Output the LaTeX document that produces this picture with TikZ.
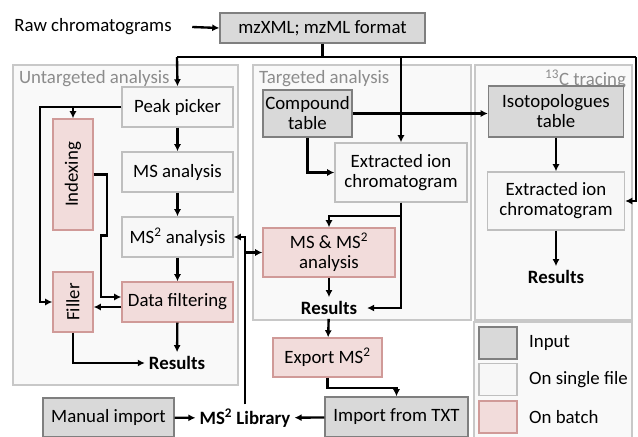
\documentclass[tikz,border=0pt]{standalone}
\usepackage{fontspec}
\setmainfont{Carlito}
\usetikzlibrary{arrows.meta,calc}
\newcommand{\unitpx}{0.85pt}
\definecolor{inputfill}{HTML}{D9D9D9}
\definecolor{inputdraw}{HTML}{7F7F7F}
\definecolor{singlefill}{HTML}{F7F7F7}
\definecolor{singledraw}{HTML}{BFBFBF}
\definecolor{batchfill}{HTML}{F2DCDB}
\definecolor{batchdraw}{HTML}{D09A98}
\definecolor{panelfill}{HTML}{F9F9F9}
\definecolor{paneldraw}{HTML}{C8C8C8}
\definecolor{labelgray}{HTML}{8C8C8C}
\begin{document}
\begin{tikzpicture}[x=\unitpx, y=-\unitpx, every node/.style={font=\fontsize{16}{17}\selectfont}, >={Latex[length=6pt, width=6pt]},
	box/.style={line width=1.2pt, align=center, inner sep=0pt},
	input/.style={box, fill=inputfill, draw=inputdraw},
	single/.style={box, fill=singlefill, draw=singledraw},
	batch/.style={box, fill=batchfill, draw=batchdraw},
	sz/.style 2 args={minimum width=#1*\unitpx, minimum height=#2*\unitpx},
	panel/.style={fill=panelfill, draw=paneldraw, line width=1.2pt},
	plabel/.style={text=labelgray, inner xsep=5pt, inner ysep=4pt},
	res/.style={font=\fontsize{16}{17}\selectfont\bfseries},
	flow/.style={line width=2pt}]
	\useasboundingbox (0,0) rectangle (638,436);
	\draw[panel] (13,65) rectangle (238,385);
	\draw[panel] (253,65) rectangle (471,320);
	\draw[panel] (475,65) rectangle (632,320);
	\draw[panel] (474,322) rectangle (632,440);
	\node[plabel, anchor=north west] (lu) at (13,65) {Untargeted analysis};
	\node[plabel, anchor=north west] (lt) at (253,65) {Targeted analysis};
	\node[plabel, anchor=north east] (lc) at (632,65) {\textsuperscript{13}C tracing};
	\node (raw) at (93,27) {Raw chromatograms};
	\node[input, sz={205}{30}] (fmt) at (322.5,28) {mzXML; mzML format};
	\coordinate (busL) at (177,57);
	\coordinate (busR) at (636,57);
	\node[single, sz={111}{40}] (pp) at (177.5,107) {Peak picker};
	\node[single, sz={111}{40}] (msa) at (177.5,172) {MS analysis};
	\node[single, sz={111}{40}] (ms2a) at (177.5,237) {MS\textsuperscript{2} analysis};
	\node[batch, sz={111}{40}] (filt) at (177.5,302) {Data filtering};
	\node[res] (resU) at (177,363) {Results};
	\node[batch, sz={111}{40}, rotate=90] (idx) at (73,174.5) {Indexing};
	\node[batch, sz={60}{40}, rotate=90] (fil) at (73,302) {Filler};
	\node[input, sz={89}{47}] (ct) at (307.5,113.5) {Compound\\table};
	\node[single, sz={132}{59}] (eicT) at (401,172.5) {Extracted ion\\chromatogram};
	\node[batch, sz={132}{49}] (msms) at (329,252.5) {MS \& MS\textsuperscript{2}\\analysis};
	\node[res] (resT) at (329,308) {Results};
	\node[batch, sz={109}{39}] (exp) at (327.5,357.5) {Export MS\textsuperscript{2}};
	\node[input, sz={135}{51}] (iso) at (556,111.5) {Isotopologues\\table};
	\node[single, sz={137}{58}] (eicC) at (556,201) {Extracted ion\\chromatogram};
	\node[res] (resC) at (556,277) {Results};
	\node[res] (lib) at (245,418) {MS\textsuperscript{2} Library};
	\node[input, sz={131}{39}] (man) at (108.5,417.5) {Manual import};
	\node[input, sz={143}{40}] (txt) at (396.5,417) {Import from TXT};
	\node[input, sz={38}{32}] (kin) at (498,343) {};
	\node[single, sz={38}{32}] (ksg) at (498,379.5) {};
	\node[batch, sz={38}{32}] (kbt) at (498,417) {};
	\node[anchor=west] (tin) at (525,343) {Input};
	\node[anchor=west] (tsg) at (525,379.5) {On single file};
	\node[anchor=west] (tbt) at (525,417) {On batch};
	\coordinate (lft) at (40,107);
	\coordinate (fin) at ($(filt.west)+(0,-5)$);
	\coordinate (fout) at ($(filt.west)+(0,5)$);
	\draw[flow, ->] ([xshift=14pt]raw.east) -- (fmt.west);
	\draw[flow] (fmt.south) -- (fmt.south |- busL);
	\draw[flow] (busL) -- (busR);
	\draw[flow, ->] (busL) -- (pp.north);
	\draw[flow, ->] (eicT.north |- busL) -- (eicT.north);
	\draw[flow, ->] (busR) |- (eicC.east);
	\draw[flow, ->] (pp) -- (msa);
	\draw[flow, ->] (msa) -- (ms2a);
	\draw[flow, ->] (ms2a) -- (filt);
	\draw[flow, ->] (filt) -- (resU);
	\draw[flow, ->] (pp.west) -- (lft) |- (fil.north);
	\draw[flow, ->] (pp.west -| idx.east) -- (idx.east);
	\draw[flow, ->] (idx.south) -- ++(13,0) -- ++(0,61) -- ++(-6,0) |- (fin);
	\draw[flow, ->] (fout) -- (fout -| fil.south);
	\draw[flow, ->] (fil.west) |- (resU.west);
	\draw[flow, ->] (man) -- (lib);
	\draw[flow, ->] (txt) -- (lib);
	\draw[flow, ->] (lib.north) |- (ms2a.east);
	\draw[flow, ->] (lib.north |- msms.west) -- (msms.west);
	\draw[flow, ->] (ct.south) |- (eicT.west);
	\draw[flow, ->] (ct.east) -- (ct.east -| iso.west);
	\draw[flow, ->] (eicT.south) -- ++(0,13) -| (msms.north);
	\draw[flow, ->] (eicT.south) |- ([xshift=5pt]resT.east);
	\draw[flow, ->] (msms) -- (resT);
	\draw[flow, ->] (resT) -- (exp);
	\draw[flow, ->] (exp.south) -- ++(0,10) -| (txt.north);
	\draw[flow, ->] (iso) -- (eicC);
	\draw[flow, ->] (eicC) -- (resC);
\end{tikzpicture}
\end{document}
